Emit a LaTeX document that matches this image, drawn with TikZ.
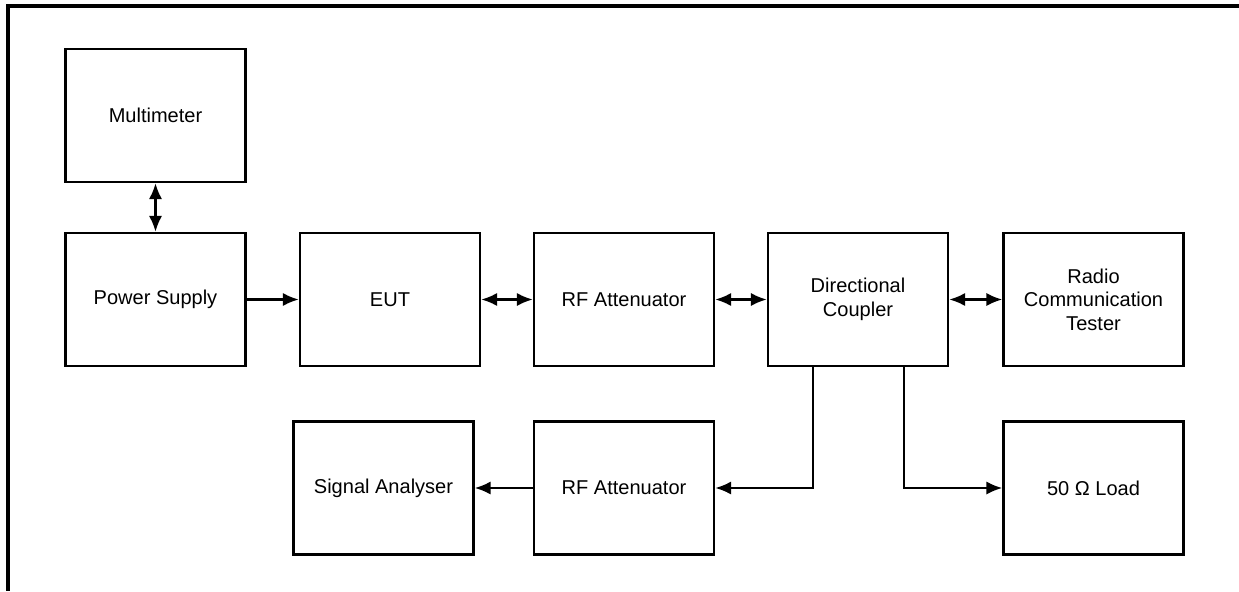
\documentclass[tikz,border=0pt]{standalone}
\usepackage{fontspec}
\setmainfont{Liberation Sans}
\usetikzlibrary{arrows.meta}
\usetikzlibrary{positioning}
\usetikzlibrary{calc}
\tikzset{unit/.style = {draw, line width = 1.4pt, minimum width = 3.6cm,
                        minimum height = 2.66cm, align = center,
                        font = \fontsize{11.4}{13.4}\selectfont}}
\tikzset{link/.style = {line width = 1.3pt}}
\tikzset{>={Latex[length=9pt, width=7.5pt]}}
\tikzset{frame/.style = {line width = 2.6pt}}

\begin{document}
\begin{tikzpicture}[x=0.02cm, y=-0.02cm]
    \useasboundingbox (0, 0) rectangle (1239, 591);
    \draw [frame] (1239, 6) -- (8, 6) -- (8, 591);

    \node [unit] (meter) at (155.5, 115.5) {Multimeter};
    \node [unit] (psu) at (155.5, 299.5) {Power Supply};
    \node [unit] (eut) at (390, 299.5) {EUT};
    \node [unit] (att) at (624, 299.5) {RF Attenuator};
    \node [unit] (coupler) at (858, 299.5) {Directional\\Coupler};
    \node [unit] (tester) at (1093.5, 299.5) {Radio\\Communication\\Tester};
    \node [unit] (analyser) at (383.5, 488) {Signal Analyser};
    \node [unit] (attb) at (624, 488) {RF Attenuator};
    \node [unit] (load) at (1093.5, 488) {50 Ω Load};

    \draw [link, <->] (meter) -- (psu);
    \draw [link, ->] (psu) -- (eut);
    \draw [link, <->] (eut) -- (att);
    \draw [link, <->] (att) -- (coupler);
    \draw [link, <->] (coupler) -- (tester);
    \draw [link, ->] ([xshift=-0.9cm]coupler.south) |- (attb.east);
    \draw [link, ->] ([xshift=0.92cm]coupler.south) |- (load.west);
    \draw [link, ->] (attb) -- (analyser);
\end{tikzpicture}
\end{document}
